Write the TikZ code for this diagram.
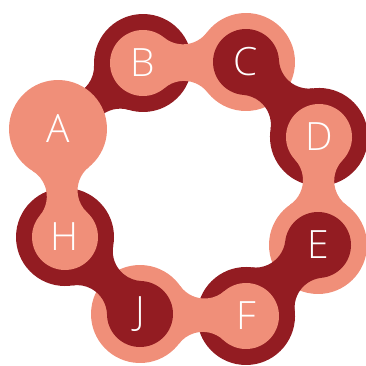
\documentclass[tikz,border=0pt]{standalone}
\usepackage{fontspec}
\setmainfont{Open Sans}[UprightFont=* Light]
\definecolor{wine}{HTML}{931C22}
\definecolor{salmon}{HTML}{F08F79}
\newcommand{\rsmall}{33}
\newcommand{\rbig}{49}
\newcommand{\rneck}{30}
\newcommand{\bone}[3]{%
  \path (#1); \pgfgetlastxy{\bxa}{\bya}
  \path (#2); \pgfgetlastxy{\bxb}{\byb}
  \pgfmathsetmacro{\bd}{veclen(\bxb-\bxa,\byb-\bya)}
  \pgfmathsetmacro{\ba}{atan2(\byb-\bya,\bxb-\bxa)}
  \pgfmathsetmacro{\fx}{((\rsmall+\rneck)^2-(\rbig+\rneck)^2+\bd^2)/(2*\bd)}
  \pgfmathsetmacro{\fh}{sqrt((\rsmall+\rneck)^2-\fx^2)}
  \pgfmathsetmacro{\tone}{atan2(\fh,\fx)}
  \pgfmathsetmacro{\ttwo}{atan2(\fh,\fx-\bd)}
  \begin{scope}[shift={(#1)},rotate=\ba]
  \fill[#3] (0,0) circle (\rsmall) (\bd,0) circle (\rbig);
  \fill[#3] (0,0) -- (\tone:\rsmall) arc[start angle=\tone-180,end angle=\ttwo-180,radius=\rneck]
    -- (\bd,0) -- ([shift={(\bd,0)}]-\ttwo:\rbig) arc[start angle=180-\ttwo,end angle=180-\tone,radius=\rneck] -- cycle;
  \end{scope}}
\tikzset{letter/.style={text=white,font=\fontsize{39}{39}\selectfont}}
\begin{document}
\begin{tikzpicture}[x=1pt,y=1pt]
\useasboundingbox (0,0) rectangle (366,365);

\coordinate (a) at (58,236);
\coordinate (b) at (143,302);
\coordinate (c) at (246,303);
\coordinate (d) at (319,228);
\coordinate (e) at (318,120);
\coordinate (f) at (246,49);
\coordinate (j) at (140,51);
\coordinate (h) at (65,128);

\bone{a}{b}{wine}
\bone{b}{c}{salmon}
\bone{c}{d}{wine}
\bone{d}{e}{salmon}
\bone{e}{f}{wine}
\bone{f}{j}{salmon}
\bone{j}{h}{wine}
\bone{h}{a}{salmon}

\node[letter] (A) at (a) {A};
\node[letter] (B) at (b) {B};
\node[letter] (C) at (c) {C};
\node[letter] (D) at (d) {D};
\node[letter] (E) at (e) {E};
\node[letter] (F) at (f) {F};
\node[letter] (J) at (j) {J};
\node[letter] (H) at (h) {H};
\end{tikzpicture}
\end{document}
